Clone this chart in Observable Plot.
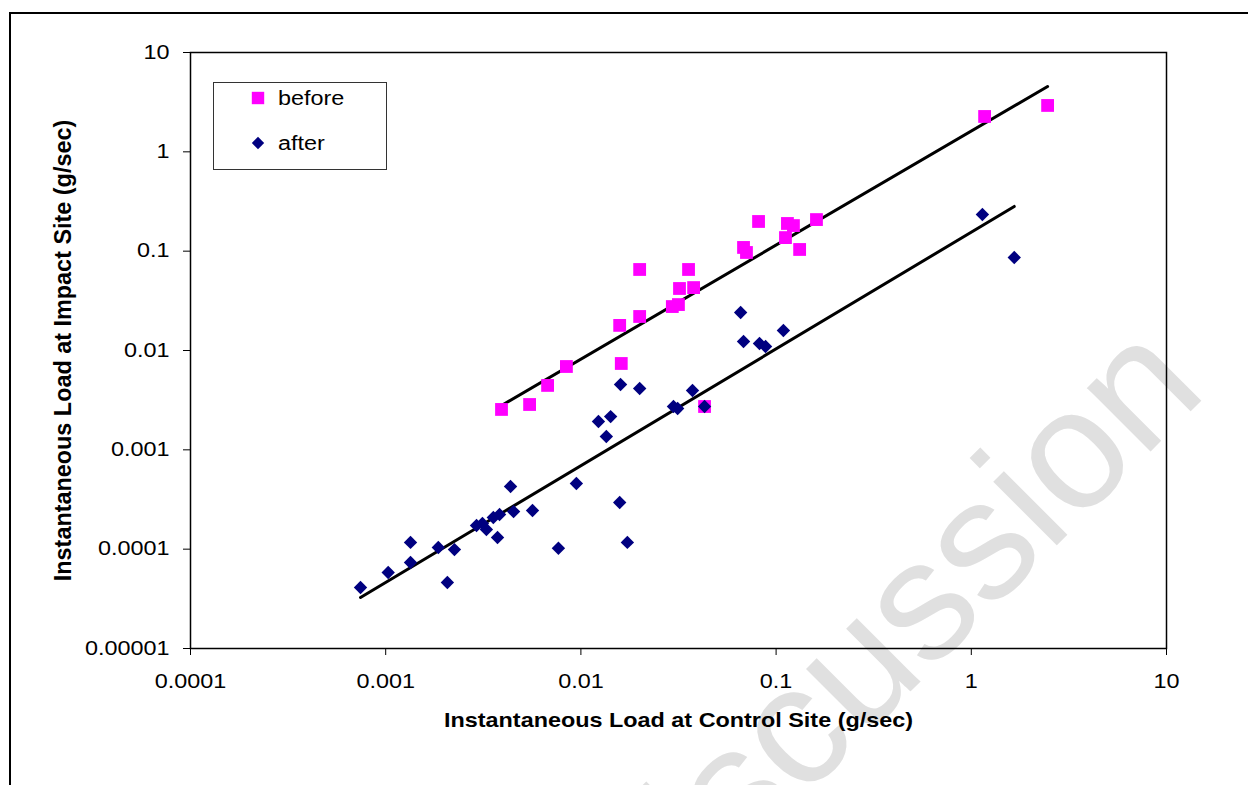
<!DOCTYPE html>
<html>
<head>
<meta charset="utf-8">
<script src="https://cdn.jsdelivr.net/npm/d3@7"></script>
<script src="https://cdn.jsdelivr.net/npm/@observablehq/plot@0.6"></script>
<style>
  html, body { margin: 0; padding: 0; background: #fff; }
  #wrap { position: relative; width: 1248px; height: 785px; overflow: hidden; background: #fff; }
  #border { position: absolute; left: 9px; top: 12px; width: 1300px; height: 900px; border-top: 2px solid #000; border-left: 2px solid #000; box-sizing: border-box; }
  #wm { position: absolute; left: 0; top: 0; }
  #chart { position: absolute; left: 0; top: 0; }
  #legend { position: absolute; left: 0; top: 0; }
</style>
</head>
<body>
<div id="wrap">
  <svg id="wm" width="1248" height="785">
    <text x="628" y="974" transform="rotate(-45 628 974)" font-family="Liberation Sans, Arial, sans-serif" font-size="170" fill="#e0e0e0">Discussion</text>
  </svg>
  <div id="border"></div>
  <div id="chart"></div>
  <svg id="legend" width="1248" height="785"></svg>
</div>
<script>
// ---- data ----
const beforeX = [0.00392,0.00546,0.00675,0.00843,0.0158,0.0161,0.0200,0.0200,0.0294,0.0316,0.0320,0.0356,0.0378,0.0430,0.0681,0.0705,0.0813,0.1117,0.1143,0.1227,0.132,0.161,1.17,2.46];
const beforeY = [0.00255,0.00286,0.00445,0.0069,0.0179,0.0074,0.0654,0.022,0.0277,0.029,0.0421,0.0654,0.043,0.00273,0.109,0.097,0.199,0.137,0.190,0.181,0.104,0.208,2.27,2.93];
const afterX = [0.000743,0.00103,0.00134,0.00134,0.00186,0.00207,0.00225,0.00292,0.00313,0.00328,0.00356,0.00383,0.00374,0.00436,0.00452,0.00565,0.00767,0.00948,0.0158,0.0173,0.0123,0.0135,0.0142,0.01596,0.0200,0.0298,0.0313,0.0373,0.0430,0.0658,0.0681,0.0822,0.0883,0.109,1.14,1.66];
const afterY = [4.11e-5,5.82e-5,1.17e-4,7.34e-5,1.04e-4,4.61e-5,9.9e-5,1.73e-4,1.81e-4,1.58e-4,2.08e-4,2.23e-4,1.31e-4,4.28e-4,2.39e-4,2.45e-4,1.02e-4,4.58e-4,2.95e-4,1.17e-4,1.93e-3,1.36e-3,2.16e-3,4.55e-3,4.14e-3,2.73e-3,2.61e-3,3.95e-3,2.73e-3,0.0241,0.0123,0.01175,0.01096,0.0159,0.234,0.0863];
const beforeFitX = [0.00392, 2.46];
const beforeFitY = [0.00279, 4.55];
const afterFitX = [0.000743, 1.66];
const afterFitY = [3.26e-5, 0.282];
const xTicks = [0.0001, 0.001, 0.01, 0.1, 1, 10];
const yTicks = [0.00001, 0.0001, 0.001, 0.01, 0.1, 1, 10];
const seriesNames = ["before", "after"];
const xTitle = "Instantaneous Load at Control Site (g/sec)";
const yTitle = "Instantaneous Load at Impact Site (g/sec)";

const before = beforeX.map((x, i) => ({x, y: beforeY[i]}));
const after = afterX.map((x, i) => ({x, y: afterY[i]}));
const beforeFit = beforeFitX.map((x, i) => ({x, y: beforeFitY[i]}));
const afterFit = afterFitX.map((x, i) => ({x, y: afterFitY[i]}));

const squareSym = {draw(ctx, size) { const h = Math.sqrt(size / Math.PI); ctx.moveTo(-h, -h); ctx.lineTo(h, -h); ctx.lineTo(h, h); ctx.lineTo(-h, h); ctx.closePath(); }};
const diamondSym = {draw(ctx, size) { const h = Math.sqrt(size / Math.PI); ctx.moveTo(0, -h); ctx.lineTo(h, 0); ctx.lineTo(0, h); ctx.lineTo(-h, 0); ctx.closePath(); }};
const fmt = d => String(d);

const plot = Plot.plot({
  width: 1248, height: 785,
  marginLeft: 190, marginTop: 52, marginRight: 82, marginBottom: 137,
  style: {fontFamily: "Liberation Sans, Arial, sans-serif", fontSize: "19.5px", background: "transparent", color: "#000", overflow: "visible"},
  x: {type: "log", domain: [1e-4, 10], ticks: xTicks, tickFormat: fmt, tickSize: 7, tickPadding: 19, label: null},
  y: {type: "log", domain: [1e-5, 10], ticks: yTicks, tickFormat: fmt, tickSize: 7, tickPadding: 14, label: null},
  marks: [
    Plot.frame({stroke: "#000", strokeWidth: 1.5}),
    Plot.line(beforeFit, {x: "x", y: "y", stroke: "#000", strokeWidth: 3}),
    Plot.line(afterFit, {x: "x", y: "y", stroke: "#000", strokeWidth: 3}),
    Plot.dot(before, {x: "x", y: "y", symbol: squareSym, r: 6.4, fill: "#ff00ff", stroke: "none"}),
    Plot.dot(after, {x: "x", y: "y", symbol: diamondSym, r: 6.7, fill: "#000080", stroke: "none"}),
    Plot.text([xTitle], {frameAnchor: "bottom", dy: 78, text: d => d, fontWeight: "bold", fontSize: 20.5}),
    Plot.text([yTitle], {frameAnchor: "left", dx: -127, rotate: -90, textAnchor: "middle", lineAnchor: "middle", text: d => d, fontWeight: "bold", fontSize: 23.4})
  ]
});
document.getElementById("chart").appendChild(plot);

// legend
const lg = d3.select("#legend");
lg.append("rect").attr("x", 213.5).attr("y", 82.5).attr("width", 173).attr("height", 87)
  .attr("fill", "#fff").attr("stroke", "#333").attr("stroke-width", 1);
const legSym = [squareSym, diamondSym];
const legCol = ["#ff00ff", "#000080"];
const legY = [98, 143];
seriesNames.forEach((name, i) => {
  lg.append("path").attr("transform", `translate(258,${legY[i]})`)
    .attr("d", d3.symbol(legSym[i], Math.PI * 6.2 * 6.2)()).attr("fill", legCol[i]);
  lg.append("text").attr("x", 278).attr("y", legY[i]).attr("dy", "0.35em")
    .attr("font-family", "Liberation Sans, Arial, sans-serif").attr("font-size", 19.5)
    .text(name);
});

// stretch texts horizontally to match the reference proportions (not the rotated title)
function stretchAll(root) {
  root.querySelectorAll("text").forEach(t => {
    const s = t.textContent;
    if (s === yTitle) return;
    const len = t.getComputedTextLength();
    const target = s === xTitle ? 469 : len * 1.2;
    t.setAttribute("textLength", target);
    t.setAttribute("lengthAdjust", "spacingAndGlyphs");
  });
}
stretchAll(plot);
stretchAll(document.getElementById("legend"));
</script>
</body>
</html>
